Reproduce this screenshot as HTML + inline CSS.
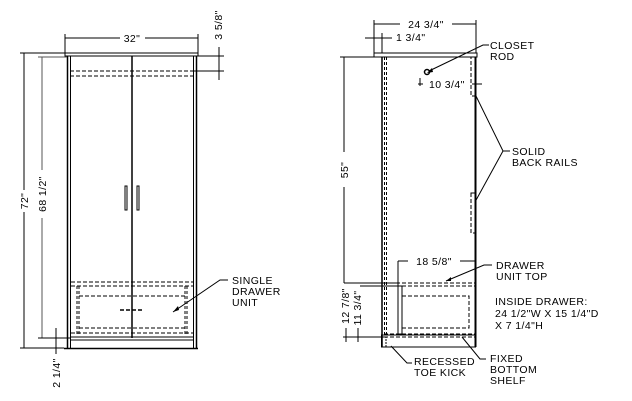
<!DOCTYPE html>
<html><head><style>
html,body{margin:0;padding:0;background:#fff;}
svg{display:block;}
text{font-family:"Liberation Sans",sans-serif;font-size:10.5px;fill:#000;letter-spacing:0.4px;}
</style></head><body>
<svg width="632" height="401" viewBox="0 0 632 401" xmlns="http://www.w3.org/2000/svg">
<g stroke="#000" fill="none" stroke-width="1">
<rect x="65" y="53" width="133" height="3"/>
<line x1="67.5" y1="56" x2="67.5" y2="349" stroke-width="1.5"/>
<line x1="70.5" y1="56" x2="70.5" y2="349"/>
<line x1="193.5" y1="56" x2="193.5" y2="349"/>
<line x1="196.5" y1="56" x2="196.5" y2="349" stroke-width="1.5"/>
<line x1="132" y1="56" x2="132" y2="338" stroke-width="1.5"/>
<line x1="70" y1="71" x2="193" y2="71" stroke-dasharray="4,2"/>
<line x1="70" y1="76" x2="193" y2="76" stroke-dasharray="4,2"/>
<rect x="125" y="186" width="2" height="24"/>
<rect x="137" y="186" width="2" height="24"/>
<line x1="71" y1="282" x2="193" y2="282" stroke-dasharray="4,2"/>
<line x1="71" y1="286" x2="193" y2="286" stroke-dasharray="4,2"/>
<line x1="77" y1="286" x2="77" y2="336" stroke-dasharray="3,2"/>
<line x1="79" y1="286" x2="79" y2="336" stroke-dasharray="3,2"/>
<line x1="185" y1="286" x2="185" y2="336" stroke-dasharray="3,2"/>
<line x1="187" y1="286" x2="187" y2="336" stroke-dasharray="3,2"/>
<line x1="79" y1="296" x2="185" y2="296" stroke-dasharray="4,2"/>
<line x1="79" y1="328" x2="185" y2="328" stroke-dasharray="4,2"/>
<line x1="120" y1="310" x2="144" y2="310" stroke-dasharray="4,2" stroke-width="1.5"/>
<line x1="71" y1="333" x2="193" y2="333" stroke-dasharray="4,2"/>
<line x1="71" y1="337" x2="193" y2="337"/>
<line x1="71" y1="340" x2="193" y2="340"/>
<line x1="64" y1="348.5" x2="198" y2="348.5" stroke-width="1.5"/>
<line x1="65" y1="34" x2="65" y2="53"/><line x1="198" y1="34" x2="198" y2="53"/>
<line x1="65" y1="38" x2="120" y2="38"/><line x1="145" y1="38" x2="198" y2="38"/>
<line x1="20" y1="53" x2="65" y2="53"/>
<line x1="24" y1="53" x2="24" y2="190"/><line x1="24" y1="212" x2="24" y2="348"/>
<line x1="20" y1="348" x2="64" y2="348"/>
<line x1="38" y1="57" x2="67" y2="57" stroke="#555"/>
<line x1="42" y1="57" x2="42" y2="170" stroke="#555"/><line x1="42" y1="218" x2="42" y2="338" stroke="#555"/>
<line x1="38" y1="338" x2="70" y2="338"/>
<line x1="56" y1="328" x2="56" y2="354"/>
<line x1="197" y1="56" x2="224" y2="56"/><line x1="193" y1="71" x2="224" y2="71"/>
<line x1="219" y1="47" x2="219" y2="80"/>
<rect x="374" y="53" width="103" height="4"/>
<line x1="382" y1="57" x2="382" y2="347" stroke-width="1.5"/>
<line x1="384.5" y1="57" x2="384.5" y2="335" stroke-dasharray="3,2"/>
<line x1="386.5" y1="57" x2="386.5" y2="335" stroke-dasharray="3,2"/>
<line x1="475.5" y1="57" x2="475.5" y2="347" stroke-width="2"/>
<rect x="471" y="57" width="4" height="39" stroke-dasharray="4,2"/>
<rect x="471" y="193" width="4" height="40" stroke-dasharray="4,2"/>
<circle cx="427" cy="72" r="2.5" stroke-width="1.5"/>
<line x1="384" y1="283" x2="476" y2="283" stroke-dasharray="4,2"/>
<line x1="384" y1="286" x2="476" y2="286" stroke-dasharray="4,2"/>
<rect x="398" y="286" width="4" height="48"/>
<rect x="402" y="296" width="67" height="32" stroke-dasharray="4,2"/>
<line x1="384" y1="334" x2="476" y2="334" stroke-dasharray="4,2"/>
<line x1="384" y1="337" x2="476" y2="337" stroke-dasharray="4,2"/>
<rect x="381.5" y="335" width="94" height="12"/>
<rect x="382" y="337" width="4" height="10" stroke-dasharray="2,1"/>
<line x1="374" y1="20" x2="374" y2="53"/><line x1="476" y1="20" x2="476" y2="53"/>
<line x1="374" y1="24" x2="400" y2="24"/><line x1="452" y1="24" x2="476" y2="24"/>
<line x1="374" y1="33" x2="374" y2="53"/><line x1="382" y1="33" x2="382" y2="53"/>
<line x1="365" y1="38" x2="392" y2="38"/>
<line x1="340" y1="57" x2="374" y2="57"/>
<line x1="344" y1="57" x2="344" y2="152"/><line x1="344" y1="187" x2="344" y2="283"/>
<line x1="344" y1="283" x2="398" y2="283"/>
<line x1="360" y1="286" x2="398" y2="286"/>
<line x1="346" y1="328" x2="346" y2="342"/>
<line x1="358" y1="328" x2="358" y2="342"/>
<line x1="343" y1="337" x2="382" y2="337"/>
<line x1="420" y1="78" x2="420" y2="86"/>
<line x1="418" y1="84" x2="423" y2="84"/><line x1="472" y1="84" x2="482" y2="84"/>
<line x1="398" y1="261" x2="398" y2="286"/>
<line x1="398" y1="261" x2="408" y2="261"/><line x1="460" y1="261" x2="476" y2="261"/>
<polyline points="429,71 483,45 489,45"/>
<polyline points="475,94 503,151 510,151"/>
<line x1="475" y1="202" x2="503" y2="151"/>
<polyline points="446,281 484,265 492,265"/>
<polyline points="391,346 407,363 412,363"/>
<polyline points="462,337 480,359 486,359"/>
<polyline points="173,312 220,280 228,280"/>
</g>
<g fill="#000">
<polygon points="427,73 432,68 433,72"/>
<polygon points="446,281 451,277 451,281"/>
<polygon points="173,312 178,306 179,310"/>
</g>
<text x="132" y="42" text-anchor="middle">32"</text>
<text transform="translate(28,201) rotate(-90)" text-anchor="middle">72"</text>
<text transform="translate(46,194) rotate(-90)" text-anchor="middle">68 1/2"</text>
<text transform="translate(60,373) rotate(-90)" text-anchor="middle">2 1/4"</text>
<text transform="translate(222,25) rotate(-90)" text-anchor="middle">3 5/8"</text>
<text x="232" y="284">SINGLE</text>
<text x="232" y="295">DRAWER</text>
<text x="232" y="306">UNIT</text>
<text x="426" y="28" text-anchor="middle">24 3/4"</text>
<text x="396" y="41">1 3/4"</text>
<text x="490" y="49">CLOSET</text>
<text x="490" y="60">ROD</text>
<text x="429" y="88">10 3/4"</text>
<text x="512" y="155">SOLID</text>
<text x="512" y="166">BACK RAILS</text>
<text transform="translate(348,170) rotate(-90)" text-anchor="middle">55"</text>
<text x="434" y="265" text-anchor="middle">18 5/8"</text>
<text x="496" y="269">DRAWER</text>
<text x="496" y="280">UNIT TOP</text>
<text x="495" y="305">INSIDE DRAWER:</text>
<text x="495" y="317">24 1/2"W X 15 1/4"D</text>
<text x="495" y="329">X 7 1/4"H</text>
<text transform="translate(349,306) rotate(-90)" text-anchor="middle">12 7/8"</text>
<text transform="translate(361,308) rotate(-90)" text-anchor="middle">11 3/4"</text>
<text x="414" y="365">RECESSED</text>
<text x="414" y="376">TOE KICK</text>
<text x="490" y="362">FIXED</text>
<text x="490" y="373">BOTTOM</text>
<text x="490" y="384">SHELF</text>
</svg>
</body></html>
